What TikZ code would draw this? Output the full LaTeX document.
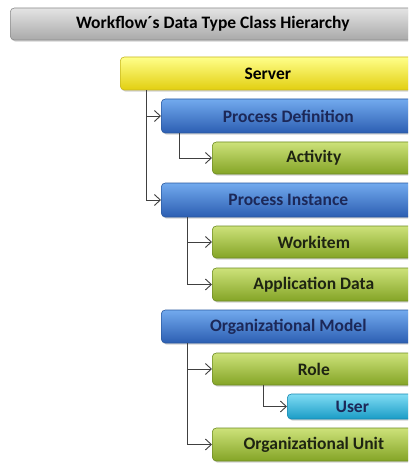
\documentclass[tikz,border=0pt]{standalone}
\usepackage{fontspec}
\setmainfont{Carlito}
\usetikzlibrary{arrows.meta,shadows}
\definecolor{grayT}{HTML}{E4E4E4}
\definecolor{grayB}{HTML}{A9A9A9}
\definecolor{grayD}{HTML}{8C8C8C}
\definecolor{yelT}{HTML}{FFFF8A}
\definecolor{yelM}{HTML}{FFF230}
\definecolor{yelB}{HTML}{E2CF10}
\definecolor{yelD}{HTML}{C8B820}
\definecolor{bluT}{HTML}{72AAEE}
\definecolor{bluM}{HTML}{4786DC}
\definecolor{bluB}{HTML}{2C5EB2}
\definecolor{bluD}{HTML}{2A5AA0}
\definecolor{bluTx}{HTML}{1C2858}
\definecolor{grnT}{HTML}{CDE27A}
\definecolor{grnM}{HTML}{A8C640}
\definecolor{grnB}{HTML}{84A426}
\definecolor{grnD}{HTML}{6E8C24}
\definecolor{grnTx}{HTML}{1E2412}
\definecolor{cyaT}{HTML}{80DCF4}
\definecolor{cyaM}{HTML}{3CBEE4}
\definecolor{cyaB}{HTML}{1A9CC6}
\definecolor{cyaD}{HTML}{1888B0}
\definecolor{lineC}{HTML}{404040}
\tikzset{
  box/.style={anchor=west, rounded corners=4pt, inner sep=0pt, font=\bfseries\fontsize{17.5}{20}\selectfont,
    drop shadow={shadow xshift=1.2pt, shadow yshift=-1.6pt, opacity=0.35}},
  titlebox/.style={box, top color=grayT, bottom color=grayB, draw=grayD, line width=0.6pt, text=black},
  yelbox/.style={box, top color=yelT, middle color=yelM, bottom color=yelB, draw=yelD, line width=0.6pt, text=black},
  blubox/.style={box, top color=bluT, middle color=bluM, bottom color=bluB, draw=bluD, line width=0.6pt, text=bluTx},
  grnbox/.style={box, top color=grnT, middle color=grnM, bottom color=grnB, draw=grnD, line width=0.6pt, text=grnTx},
  cyabox/.style={box, top color=cyaT, middle color=cyaM, bottom color=cyaB, draw=cyaD, line width=0.6pt, text=bluTx},
  conn/.style={draw=lineC, line width=0.9pt, -{Straight Barb[length=6pt,width=11pt,line width=0.9pt]}}
}
\begin{document}
\begin{tikzpicture}[x=1pt,y=-1pt]
\useasboundingbox (0,0) rectangle (408,465);
\clip (0,0) rectangle (408,465);
\fill[white] (0,0) rectangle (408,465);
\node[titlebox, minimum width=405pt, minimum height=32pt] (title) at (10,24) {Workflow´s Data Type Class Hierarchy};
\node[yelbox, minimum width=295pt, minimum height=33pt] (server) at (120,73.5) {Server};
\node[blubox, minimum width=254pt, minimum height=34pt] (pd) at (161,116) {Process Definition};
\node[grnbox, minimum width=203pt, minimum height=32pt] (act) at (212,158) {Activity};
\node[blubox, minimum width=254pt, minimum height=34pt] (pi) at (161,200) {Process Instance};
\node[grnbox, minimum width=203pt, minimum height=32pt] (wi) at (212,242) {Workitem};
\node[grnbox, minimum width=203pt, minimum height=33pt] (ad) at (212,284.5) {Application Data};
\node[blubox, minimum width=254pt, minimum height=33pt] (om) at (161,326.5) {Organizational Model};
\node[grnbox, minimum width=203pt, minimum height=32pt] (role) at (212,369) {Role};
\node[cyabox, minimum width=130pt, minimum height=25pt] (user) at (287,406.5) {User};
\node[grnbox, minimum width=203pt, minimum height=33pt] (ou) at (212,444.5) {Organizational Unit};
\draw[conn] ([xshift=26pt]server.south west) |- (pd.west);
\draw[conn] ([xshift=26pt]server.south west) |- (pi.west);
\draw[conn] ([xshift=18pt]pd.south west) |- (act.west);
\draw[conn] ([xshift=26pt]pi.south west) |- (wi.west);
\draw[conn] ([xshift=26pt]pi.south west) |- (ad.west);
\draw[conn] ([xshift=26pt]om.south west) |- (role.west);
\draw[conn] ([xshift=26pt]om.south west) |- (ou.west);
\draw[conn] ([xshift=51pt]role.south west) |- (user.west);
\end{tikzpicture}
\end{document}
